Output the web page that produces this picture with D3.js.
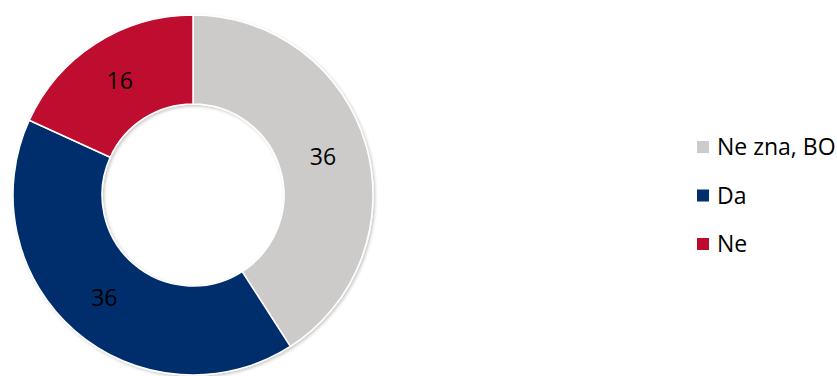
<!DOCTYPE html>
<html>
<head>
<meta charset="utf-8">
<script src="https://cdn.jsdelivr.net/npm/d3@7"></script>
<style>
  html, body { margin: 0; padding: 0; background: #ffffff; }
  svg { display: block; }
  text { font-family: "Open Sans", "Noto Sans", sans-serif; fill: #000; }
</style>
</head>
<body>
<svg id="chart" width="837" height="376"></svg>
<script>
// Answer categories, their shares and colours
const categories = ["Ne zna, BO", "Da", "Ne"];
const values = [36, 36, 16];
const colors = ["#CDCBC9", "#002F6C", "#BE0A2F"];

const width = 837, height = 376;
const cx = 193, cy = 195;
const outerR = 180, innerR = 91;

const svg = d3.select("#chart");

// soft shadow under the ring
const defs = svg.append("defs");
const shadow = defs.append("filter").attr("id", "ringShadow")
  .attr("x", "-10%").attr("y", "-10%").attr("width", "120%").attr("height", "120%");
shadow.append("feDropShadow")
  .attr("dx", 1.5).attr("dy", 1.5).attr("stdDeviation", 1.8)
  .attr("flood-color", "#000").attr("flood-opacity", 0.22);

const pie = d3.pie().sort(null).value(d => d.value);
const arc = d3.arc().innerRadius(innerR).outerRadius(outerR);

const data = categories.map((c, i) => ({ name: c, value: values[i], color: colors[i] }));
const arcs = pie(data);

const g = svg.append("g").attr("transform", `translate(${cx},${cy})`);

g.append("g").attr("filter", "url(#ringShadow)")
  .selectAll("path")
  .data(arcs)
  .join("path")
  .attr("d", arc)
  .attr("fill", d => d.data.color)
  .attr("stroke", "#ffffff")
  .attr("stroke-width", 1.5)
  .attr("stroke-linejoin", "round");

// value labels at slice centroids
g.selectAll("text.val")
  .data(arcs)
  .join("text")
  .attr("class", "val")
  .attr("x", d => arc.centroid(d)[0])
  .attr("y", d => arc.centroid(d)[1])
  .attr("dy", "0.36em")
  .attr("text-anchor", "middle")
  .style("font-size", "23px")
  .text(d => d.data.value);

// legend
const legend = svg.append("g").attr("transform", "translate(697,141)");
const rows = legend.selectAll("g")
  .data(data)
  .join("g")
  .attr("transform", (d, i) => `translate(0,${i * 48.5})`);

rows.append("rect")
  .attr("width", 12).attr("height", 12)
  .attr("fill", d => d.color);

rows.append("text")
  .attr("x", 20)
  .attr("y", 6)
  .attr("dy", "0.35em")
  .style("font-size", "23px")
  .text(d => d.name);
</script>
</body>
</html>
